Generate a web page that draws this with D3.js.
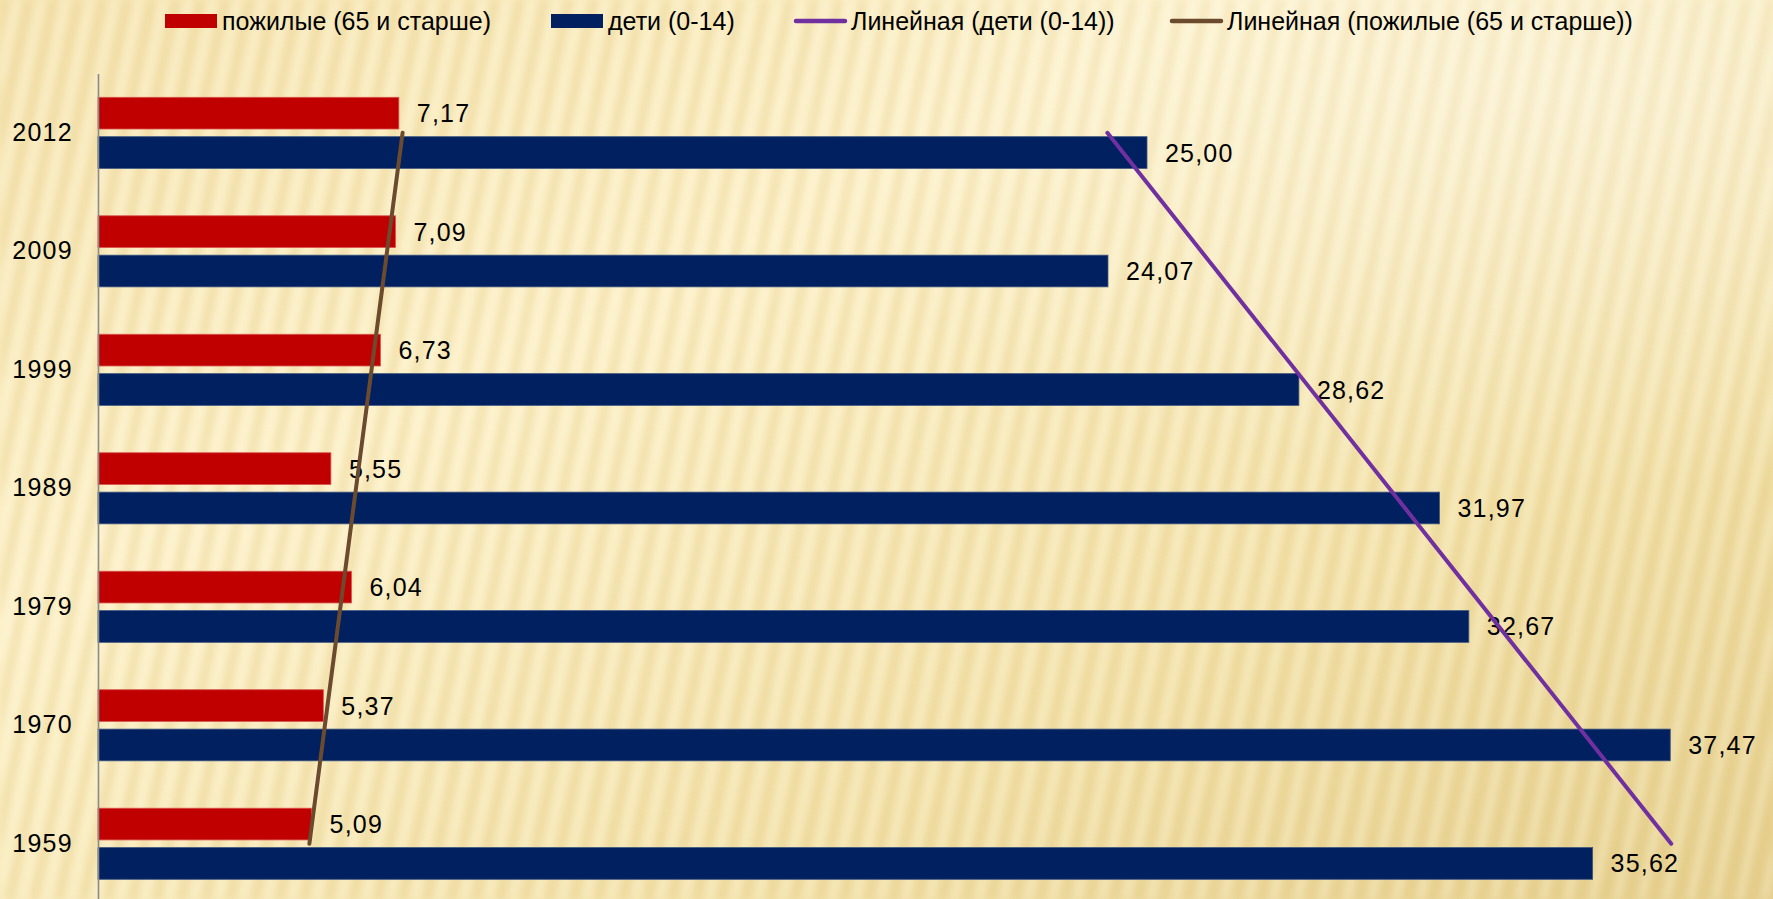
<!DOCTYPE html>
<html>
<head>
<meta charset="utf-8">
<script src="https://cdn.jsdelivr.net/npm/d3@7/dist/d3.min.js"></script>
<style>
  html, body { margin: 0; padding: 0; overflow: hidden; }
  svg { display: block; }
</style>
</head>
<body>
<svg id="chart" width="1773" height="899"></svg>
<script>
// ---- data ----
const years = ["2012", "2009", "1999", "1989", "1979", "1970", "1959"];
const elderly = [7.17, 7.09, 6.73, 5.55, 6.04, 5.37, 5.09];   // пожилые (65 и старше)
const children = [25.00, 24.07, 28.62, 31.97, 32.67, 37.47, 35.62]; // дети (0-14)
const seriesNames = ["пожилые (65 и старше)", "дети (0-14)"];
const trendNames = ["Линейная (дети (0-14))", "Линейная (пожилые (65 и старше))"];

const W = 1773, H = 899;
const svg = d3.select("#chart");
const defs = svg.append("defs");

// ---- background ----
const bg = defs.append("linearGradient").attr("id", "bgGrad")
  .attr("x1", "0").attr("y1", "0").attr("x2", "1").attr("y2", "1");
bg.append("stop").attr("offset", "0").attr("stop-color", "#F6E5B2");
bg.append("stop").attr("offset", "0.35").attr("stop-color", "#FCF0C7");
bg.append("stop").attr("offset", "0.7").attr("stop-color", "#F3E2AA");
bg.append("stop").attr("offset", "1").attr("stop-color", "#E6D08F");

const rg = defs.append("radialGradient").attr("id", "hl")
  .attr("cx", "0.88").attr("cy", "0.1").attr("r", "0.45");
rg.append("stop").attr("offset", "0").attr("stop-color", "#ffffff").attr("stop-opacity", 0.35);
rg.append("stop").attr("offset", "1").attr("stop-color", "#ffffff").attr("stop-opacity", 0);

const blur = defs.append("filter").attr("id", "soft").attr("x", "-10%").attr("y", "-10%").attr("width", "120%").attr("height", "120%");
blur.append("feGaussianBlur").attr("stdDeviation", 3);

const pat = defs.append("pattern").attr("id", "stripes")
  .attr("width", 24).attr("height", 40).attr("patternUnits", "userSpaceOnUse")
  .attr("patternTransform", "rotate(12)");
pat.append("rect").attr("x", 0).attr("y", 0).attr("width", 9).attr("height", 40)
  .attr("fill", "#D8BC6E").attr("opacity", 0.22);
pat.append("rect").attr("x", 14).attr("y", 0).attr("width", 5).attr("height", 40)
  .attr("fill", "#FFFBEA").attr("opacity", 0.35);

svg.append("rect").attr("width", W).attr("height", H).attr("fill", "url(#bgGrad)");
svg.append("rect").attr("width", W).attr("height", H).attr("fill", "url(#stripes)").attr("filter", "url(#soft)");
svg.append("rect").attr("width", W).attr("height", H).attr("fill", "url(#hl)");

// ---- scales ----
const x0 = 98;
const x = d3.scaleLinear().domain([0, 40]).range([x0, x0 + 40 * 41.96]);
const y = d3.scaleBand().domain(years).range([73.6, 903]).paddingInner(0.4).paddingOuter(0.2);
const ySub = d3.scaleBand().domain([0, 1]).range([0, y.bandwidth()]).paddingInner(0.195);

const colors = ["#C00000", "#002060"];
const seriesVals = [elderly, children];

// ---- bars ----
seriesVals.forEach((vals, s) => {
  const g = svg.append("g");
  g.selectAll("rect").data(years).join("rect")
    .attr("x", x(0))
    .attr("y", (d) => y(d) + ySub(s))
    .attr("width", (d, i) => x(vals[i]) - x(0))
    .attr("height", ySub.bandwidth())
    .attr("fill", colors[s])
    .attr("stroke", s === 1 ? "#3D5580" : "#D9534F")
    .attr("stroke-width", 0.8);
});

// ---- axis ----
const axis = d3.axisLeft(y).tickSize(0).tickSizeOuter(0).tickPadding(25);
const ag = svg.append("g").attr("transform", `translate(${x0},0)`).call(axis);
ag.select(".domain").attr("stroke", "#8A8A8A").attr("stroke-width", 1.6);
ag.selectAll("text")
  .attr("font-family", "Liberation Sans, Arial, sans-serif")
  .attr("font-size", 25).attr("letter-spacing", 1.3).attr("fill", "#000");

// ---- trendlines (linear regression over category index) ----
function trend(vals) {
  const n = vals.length;
  const pts = vals.map((v, i) => ({ t: n - i, v, year: years[i] }));
  const mt = d3.mean(pts, p => p.t), mv = d3.mean(pts, p => p.v);
  const sxy = d3.sum(pts, p => (p.t - mt) * (p.v - mv));
  const sxx = d3.sum(pts, p => (p.t - mt) ** 2);
  const b = sxy / sxx, a = mv - b * mt;
  return pts.map(p => ({ year: p.year, v: a + b * p.t }));
}
const line = d3.line().x(d => x(d.v)).y(d => y(d.year) + y.bandwidth() / 2);
const trendSpecs = [
  { vals: children, color: "#7030A0" },
  { vals: elderly, color: "#6B4A2E" }
];

// ---- value labels ----
seriesVals.forEach((vals, s) => {
  svg.append("g").selectAll("text").data(years).join("text")
    .attr("x", (d, i) => x(vals[i]) + 18)
    .attr("y", (d) => y(d) + ySub(s) + ySub.bandwidth() / 2)
    .attr("dy", "0.36em")
    .attr("font-family", "Liberation Sans, Arial, sans-serif")
    .attr("font-size", 25).attr("letter-spacing", 1.2).attr("fill", "#000")
    .text((d, i) => vals[i].toFixed(2).replace(".", ","));
});

trendSpecs.forEach(t => {
  const pts = trend(t.vals);
  svg.append("path").datum([pts[0], pts[pts.length - 1]])
    .attr("d", line).attr("fill", "none")
    .attr("stroke", t.color).attr("stroke-width", 4).attr("stroke-linecap", "round");
});

// ---- legend ----
const legFont = "Liberation Sans Narrow, Arial Narrow, sans-serif";
const leg = svg.append("g");
const legendItems = [
  { type: "rect", color: colors[0], label: seriesNames[0], x: 165 },
  { type: "rect", color: colors[1], label: seriesNames[1], x: 551 },
  { type: "line", color: trendSpecs[0].color, label: trendNames[0], x: 794 },
  { type: "line", color: trendSpecs[1].color, label: trendNames[1], x: 1170 }
];
legendItems.forEach(it => {
  if (it.type === "rect") {
    leg.append("rect").attr("x", it.x).attr("y", 14).attr("width", 52).attr("height", 14).attr("fill", it.color);
  } else {
    leg.append("line").attr("x1", it.x + 2).attr("x2", it.x + 51).attr("y1", 21).attr("y2", 21)
      .attr("stroke", it.color).attr("stroke-width", 4.5).attr("stroke-linecap", "round");
  }
  leg.append("text").attr("x", it.x + 57).attr("y", 21).attr("dy", "0.36em")
    .attr("font-family", legFont).attr("font-size", 25).attr("fill", "#000")
    .text(it.label);
});
</script>
</body>
</html>
